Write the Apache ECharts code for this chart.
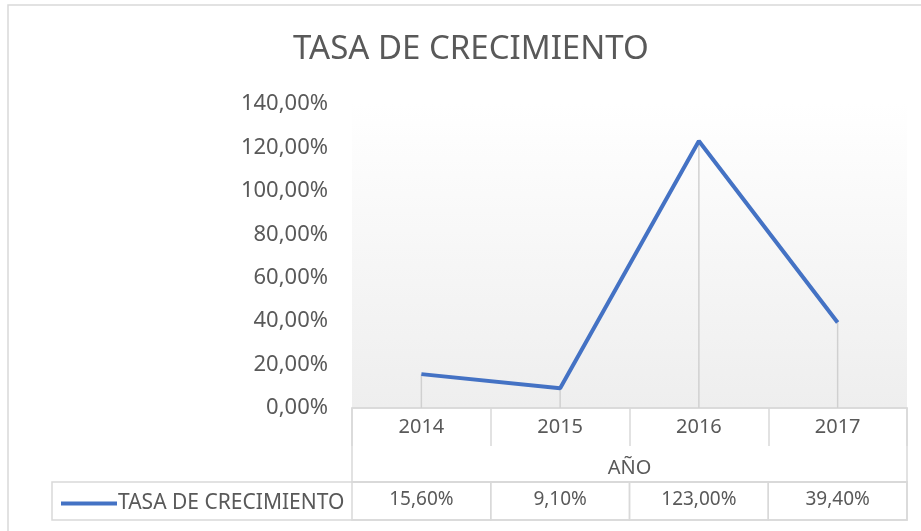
<!DOCTYPE html>
<html>
<head>
<meta charset="utf-8">
<script src="https://cdn.jsdelivr.net/npm/echarts@6/dist/echarts.min.js"></script>
<style>
  html, body { margin: 0; padding: 0; background: #fff; }
  #chart { width: 921px; height: 531px; }
</style>
</head>
<body>
<div id="chart"></div>
<script>
// datos del gráfico
const years = ['2014', '2015', '2016', '2017']
const tasa = [15.6, 9.1, 123.0, 39.4]
const serieName = 'TASA DE CRECIMIENTO'
const axisName = 'AÑO'

const fmt = v => v.toFixed(2).replace('.', ',') + '%'
const font = '"Noto Sans", "Open Sans", sans-serif'
const gray = '#595959'
const border = '#d9d9d9'

const chart = echarts.init(document.getElementById('chart'))

// celdas de la tabla de datos, debajo del eje
function renderCell(params, api) {
  const i = api.value(0)
  const v = tasa[i]
  const c = api.coord([i, 0])
  const w = api.size([1, 0])[0]
  const top = c[1] + 74
  return {
    type: 'group',
    children: [
      {
        type: 'rect',
        shape: { x: c[0] - w / 2, y: top, width: w, height: 38 },
        style: { fill: null, stroke: border, lineWidth: 1.5 }
      },
      {
        type: 'text',
        style: {
          x: c[0], y: top + 18, text: fmt(v),
          align: 'center', verticalAlign: 'middle',
          fill: gray, font: '19px ' + font
        }
      }
    ]
  }
}

const option = {
  animation: false,
  backgroundColor: '#fff',
  textStyle: { fontFamily: font },
  title: {
    text: serieName,
    left: 288,
    top: 28,
    textStyle: { fontSize: 33, fontWeight: 'normal', color: gray, fontFamily: font }
  },
  legend: {
    data: [serieName],
    left: 56,
    top: 488,
    icon: 'rect',
    itemWidth: 56,
    itemHeight: 4,
    itemGap: 0,
    textStyle: { fontSize: 21, color: gray, fontFamily: font, padding: [0, 0, 0, -4] }
  },
  graphic: [
    {
      type: 'rect',
      shape: { x: 8, y: 5, width: 1000, height: 600 },
      style: { fill: null, stroke: '#d9d9d9', lineWidth: 1.5 },
      silent: true
    }
  ],
  grid: [
    {
      left: 352, right: 14, top: 104, bottom: 123,
      show: true,
      borderWidth: 0,
      backgroundColor: new echarts.graphic.LinearGradient(0, 0, 0, 1, [
        { offset: 0, color: '#ffffff' },
        { offset: 1, color: '#eeeeee' }
      ])
    },
    // contorno de las filas de años y AÑO
    { left: 352, right: 14, top: 408, height: 74, show: true, borderColor: border, borderWidth: 1.5 },
    // contorno de la fila de valores (incluye la leyenda)
    { left: 52, right: 14, top: 482, height: 38, show: true, borderColor: border, borderWidth: 1.5 }
  ],
  xAxis: [
    {
      type: 'category',
      data: years,
      gridIndex: 0,
      axisLine: { show: true, lineStyle: { color: border, width: 1.5 } },
      axisTick: { show: true, length: 38, lineStyle: { color: border, width: 1.5 } },
      axisLabel: { color: gray, fontSize: 20, margin: 9 },
      name: axisName,
      nameLocation: 'middle',
      nameGap: 50,
      nameTextStyle: { color: gray, fontSize: 20 }
    },
    { type: 'category', gridIndex: 1, show: false, data: years },
    { type: 'category', gridIndex: 2, show: false, data: years }
  ],
  yAxis: [
    {
      type: 'value',
      gridIndex: 0,
      min: 0,
      max: 140,
      interval: 20,
      axisLine: { show: false },
      axisTick: { show: false },
      splitLine: { show: false },
      axisLabel: { color: gray, fontSize: 22, margin: 24, formatter: fmt }
    },
    { type: 'value', gridIndex: 1, show: false },
    { type: 'value', gridIndex: 2, show: false }
  ],
  series: [
    {
      // líneas de caída desde cada punto
      type: 'bar',
      data: tasa,
      barWidth: 1.5,
      itemStyle: { color: '#d0d0d0' },
      silent: true,
      z: 1
    },
    {
      name: serieName,
      type: 'line',
      data: tasa,
      symbol: 'none',
      lineStyle: { color: '#4472C4', width: 4 },
      itemStyle: { color: '#4472C4' },
      z: 3
    },
    {
      type: 'custom',
      data: tasa.map((v, i) => [i, v]),
      encode: { x: 0, y: 1 },
      renderItem: renderCell,
      clip: false,
      silent: true,
      z: 2
    }
  ]
}

chart.setOption(option)
</script>
</body>
</html>
